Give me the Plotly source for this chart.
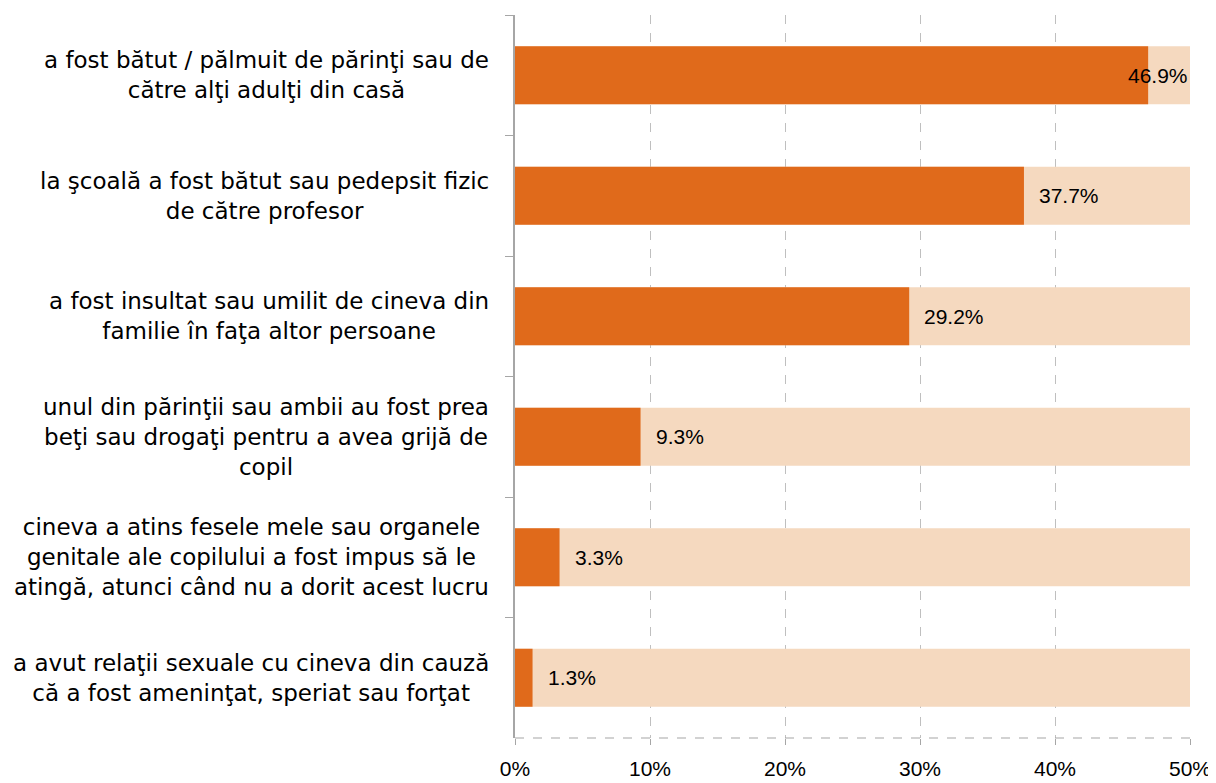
import plotly.graph_objects as go

categories = [
    "a fost bătut / pălmuit de părinţi sau de<br>către alţi adulţi din casă",
    "la şcoală a fost bătut sau pedepsit fizic<br>de către profesor",
    "a fost insultat sau umilit de cineva din<br>familie în faţa altor persoane",
    "unul din părinţii sau ambii au fost prea<br>beţi sau drogaţi pentru a avea grijă de<br>copil",
    "cineva a atins fesele mele sau organele<br>genitale ale copilului a fost impus să le<br>atingă, atunci când nu a dorit acest lucru",
    "a avut relaţii sexuale cu cineva din cauză<br>că a fost ameninţat, speriat sau forţat",
]
values = [46.9, 37.7, 29.2, 9.3, 3.3, 1.3]
background = [50, 50, 50, 50, 50, 50]
tick_vals = [0, 10, 20, 30, 40, 50]
tick_text = ["0%", "10%", "20%", "30%", "40%", "50%"]

ORANGE = "#E06A1B"
PEACH = "#F5D9BF"
LABEL_FONT = "DejaVu Sans"
NUM_FONT = "Liberation Sans Narrow, Liberation Sans, sans-serif"

fig = go.Figure()
fig.add_trace(go.Bar(
    y=categories, x=background, orientation="h",
    marker=dict(color=PEACH, line=dict(width=0)),
    width=0.48, hoverinfo="skip", showlegend=False,
))
fig.add_trace(go.Bar(
    y=categories, x=values, orientation="h",
    marker=dict(color=ORANGE, line=dict(width=0)),
    width=0.48, showlegend=False,
))

annotations = []
xmax = 50
px_per_unit = 675 / xmax
for cat, v in zip(categories, values):
    label = f"{v:.1f}%"
    label_w = 52
    if v + (16 + label_w) / px_per_unit > xmax:
        annotations.append(dict(x=xmax, y=cat, xref="x", yref="y", text=label,
                                showarrow=False, xanchor="right", yanchor="middle",
                                font=dict(family=NUM_FONT, size=21, color="#000000")))
    else:
        annotations.append(dict(x=v, y=cat, xref="x", yref="y", text=label,
                                showarrow=False, xanchor="left", yanchor="middle", xshift=13,
                                font=dict(family=NUM_FONT, size=21, color="#000000")))
    annotations.append(dict(x=0, y=cat, xref="paper", yref="y", text=cat,
                            showarrow=False, xanchor="right", yanchor="middle", xshift=-24,
                            align="center",
                            font=dict(family=LABEL_FONT, size=23, color="#000000")))

fig.update_layout(
    width=1216, height=783,
    margin=dict(l=507, r=34, t=7, b=53),
    paper_bgcolor="white", plot_bgcolor="white",
    barmode="overlay",
    annotations=annotations,
    shapes=[dict(type="line", xref="paper", yref="paper", x0=0, x1=1, y0=0, y1=0,
                 line=dict(color="#A6A6A6", width=1.2, dash="dash"))],
    xaxis=dict(
        range=[0, 50], tickvals=tick_vals, ticktext=tick_text,
        showgrid=True, gridcolor="#BFBFBF", griddash="dash", gridwidth=1,
        zeroline=False, showline=False, automargin=False,
        ticks="outside", ticklen=6, tickcolor="#A6A6A6", ticklabelstandoff=6,
        tickfont=dict(family=NUM_FONT, size=21, color="#000000"),
    ),
    yaxis=dict(
        autorange="reversed", showticklabels=False, automargin=False,
        showline=True, linecolor="#A6A6A6", linewidth=1.5,
        ticks="outside", tickson="boundaries", ticklen=8, tickcolor="#A6A6A6",
        showgrid=False, zeroline=False,
    ),
)

fig.write_html("out.html")
